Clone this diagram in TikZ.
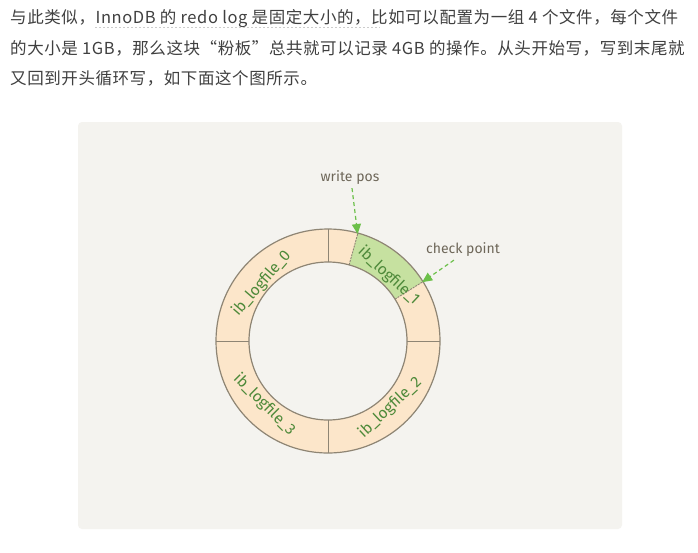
\documentclass[tikz,border=0pt]{standalone}
\usepackage{fontspec}
\usetikzlibrary{arrows.meta,calc}
\newfontfamily\cjk[LetterSpace=3.5]{Noto Sans CJK SC}
\newfontfamily\hand{Fira Sans}
\definecolor{txt}{HTML}{404040}
\definecolor{panel}{HTML}{F4F3EF}
\definecolor{peach}{HTML}{FCE6CA}
\definecolor{leaf}{HTML}{C6E1A0}
\definecolor{rim}{HTML}{8E8574}
\definecolor{lbl}{HTML}{4E8A3A}
\definecolor{note}{HTML}{6E6759}
\definecolor{arr}{HTML}{6CC04A}
\tikzset{
  para/.style={anchor=base west, inner sep=0pt, text=txt, font=\cjk\fontsize{16.5}{20}\selectfont},
  filelbl/.style={inner sep=0pt, text=lbl, font=\hand\fontsize{15.5}{17}\selectfont},
  notelbl/.style={inner sep=0pt, text=note, font=\hand\fontsize{14}{16}\selectfont},
  pointer/.style={draw=arr, line width=1.2pt, dash pattern=on 4pt off 3pt, -{Triangle[length=10pt,width=9pt]}},
}
\begin{document}
\begin{tikzpicture}[x=1pt,y=1pt]
\useasboundingbox (0,0) rectangle (698,-552);
\fill[white] (0,0) rectangle (698,-552);
% paragraph
\node[para] (l1) at (10,-23) {与此类似，InnoDB 的 redo log 是固定大小的，比如可以配置为一组 4 个文件，每个文件};
\node[para] (l2) at (10,-54) {的大小是 1GB，那么这块“粉板”总共就可以记录 4GB 的操作。从头开始写，写到末尾就};
\node[para] (l3) at (10,-84) {又回到开头循环写，如下面这个图所示。};
\draw[black!20, line width=0.8pt, dash pattern=on 2pt off 2pt] (95,-27) -- (380,-27);
% panel
\fill[panel, rounded corners=4pt] (78,-122) rectangle (622,-529);
% ring
\coordinate (C) at (328,-341);
\fill[peach, even odd rule] (C) circle[radius=112] (C) circle[radius=79];
\fill[leaf] ($(C)+(32:112)$) arc[start angle=32,end angle=74.5,radius=112]
  -- ($(C)+(74.5:79)$) arc[start angle=74.5,end angle=32,radius=79] -- cycle;
\draw[rim, line width=1.2pt] (C) circle[radius=112] (C) circle[radius=79];
\foreach \a in {0,90,180,270}
  \draw[rim, line width=1pt] ($(C)+(\a:79)$) -- ($(C)+(\a:112)$);
\foreach \a in {32,74.5}
  \draw[rim, line width=0.9pt, dash pattern=on 2pt off 1pt] ($(C)+(\a:79)$) -- ($(C)+(\a:112)$);
% file labels
\node[filelbl, rotate=49] (f0) at ($(C)+(139:88)$) {ib\_logfile\_0};
\node[filelbl, rotate=-43] (f1) at ($(C)+(47:89)$) {ib\_logfile\_1};
\node[filelbl, rotate=43] (f2) at ($(C)+(-47:91)$) {ib\_logfile\_2};
\node[filelbl, rotate=-45] (f3) at ($(C)+(-135:90)$) {ib\_logfile\_3};
% pointers
\node[notelbl] (wp) at (350,-178) {write pos};
\node[notelbl] (cp) at (463,-250) {check point};
\coordinate (wpend) at ($(C)+(74.5:111)$);
\coordinate (cpend) at ($(C)+(32:111)$);
\draw[pointer] ($(wp.south)+(2,-3)$) -- (wpend);
\draw[pointer] ($(cp.south west)+(28,-3)$) -- (cpend);
\end{tikzpicture}
\end{document}
